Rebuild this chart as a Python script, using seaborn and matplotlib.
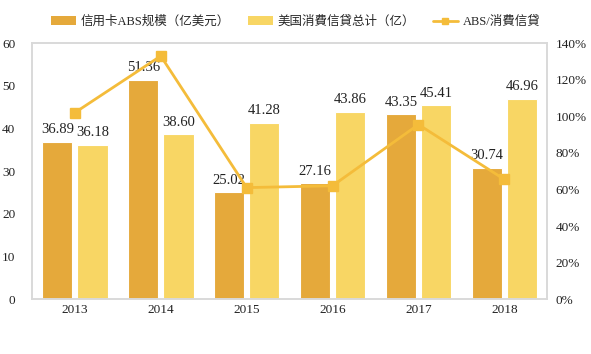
import pandas as pd
import numpy as np
import matplotlib.pyplot as plt
import seaborn as sns
from matplotlib.patches import Patch
from matplotlib.lines import Line2D

# --------------------------- DATA ---------------------------
years = ['2013', '2014', '2015', '2016', '2017', '2018']
abs_scale = [36.89, 51.36, 25.02, 27.16, 43.35, 30.74]
credit_total = [36.18, 38.60, 41.28, 43.86, 45.41, 46.96]
ratio = [1.02, 1.33, 0.61, 0.62, 0.955, 0.655]

label_abs = '信用卡ABS规模（亿美元）'
label_total = '美国消費信貸总计（亿）'
label_ratio = 'ABS/消費信貸'

# --------------------------- SETTINGS ---------------------------
sns.set_theme(style="white")
plt.rcParams['font.family'] = ['Liberation Serif', 'Noto Sans CJK SC', 'DejaVu Sans']

dark = '#E5A93B'
light = '#F8D664'
line_c = '#F4BC3A'
frame_c = '#D9D9D9'

df = pd.DataFrame({
    'year': years * 2,
    'value': abs_scale + credit_total,
    'series': [label_abs] * len(years) + [label_total] * len(years),
})

fig = plt.figure(figsize=(5.91, 3.54), dpi=100)
ax = fig.add_axes([0.054, 0.155, 0.872, 0.723])

sns.barplot(data=df, x='year', y='value', hue='series',
            palette=[dark, light], saturation=1, width=0.82, gap=0.14,
            edgecolor='white', linewidth=0.8, legend=False, ax=ax)

for cont in ax.containers:
    ax.bar_label(cont, fmt='%.2f', padding=4, fontsize=10.5, color='#222222')

ax.set_ylim(0, 60)
ax.set_yticks(range(0, 61, 10))
ax.set_xlim(-0.5, len(years) - 0.5)
ax.set_xlabel('')
ax.set_ylabel('')
ax.tick_params(axis='both', labelsize=9.5, length=0, colors='#222222')
ax.tick_params(axis='y', pad=12)
for s in ax.spines.values():
    s.set_color(frame_c)
    s.set_linewidth(1.2)

ax2 = ax.twinx()
ax2.plot(np.arange(len(years)), ratio, color=line_c, lw=2,
         marker='s', markersize=6.5)
ax2.set_ylim(0, 1.4)
ax2.set_yticks(np.arange(0, 1.41, 0.2))
ax2.set_yticklabels([f'{int(round(v * 100))}%' for v in np.arange(0, 1.41, 0.2)])
ax2.tick_params(axis='y', labelsize=9.5, length=0, colors='#222222', pad=6)
ax2.grid(False)
for s in ax2.spines.values():
    s.set_color(frame_c)
    s.set_linewidth(1.2)

handles = [
    Patch(facecolor=dark, edgecolor='none'),
    Patch(facecolor=light, edgecolor='none'),
    Line2D([0], [0], color=line_c, lw=2, marker='s', markersize=4.5),
]
fig.legend(handles, [label_abs, label_total, label_ratio],
           loc='center', bbox_to_anchor=(0.5, 0.938), ncol=3, frameon=False,
           fontsize=9, handlelength=2.0, handleheight=0.7,
           columnspacing=1.4, handletextpad=0.4)

fig.savefig('out.png', dpi=100)
